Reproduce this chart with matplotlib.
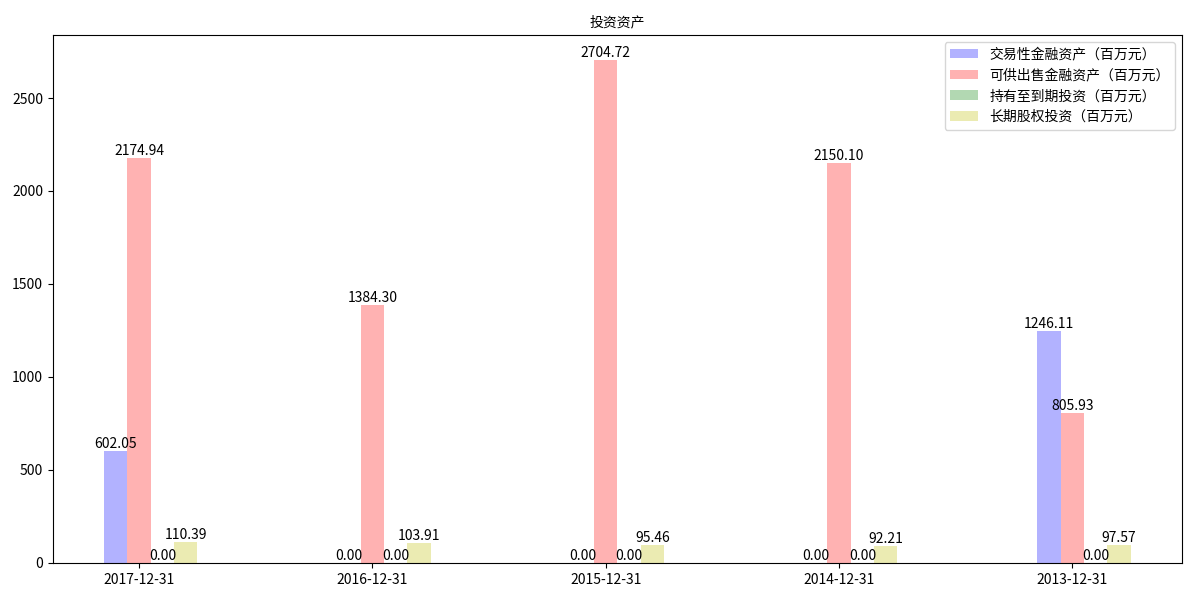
import matplotlib
matplotlib.use('Agg')
import matplotlib.pyplot as plt
import numpy as np

plt.rcParams['font.family'] = ['Noto Sans CJK SC', 'DejaVu Sans']
plt.rcParams['axes.unicode_minus'] = False

dates = ['2017-12-31', '2016-12-31', '2015-12-31', '2014-12-31', '2013-12-31']
trading = [602.05, 0.00, 0.00, 0.00, 1246.11]
available = [2174.94, 1384.30, 2704.72, 2150.10, 805.93]
held = [0.00, 0.00, 0.00, 0.00, 0.00]
equity = [110.39, 103.91, 95.46, 92.21, 97.57]

series = [
    (trading, '交易性金融资产（百万元）', 'b', -1),
    (available, '可供出售金融资产（百万元）', 'r', 0),
    (held, '持有至到期投资（百万元）', 'g', 1),
    (equity, '长期股权投资（百万元）', 'y', 2),
]

width = 0.1
x = np.arange(len(dates))

fig = plt.figure(figsize=(12, 6), dpi=100)
ax = fig.add_subplot(1, 1, 1)

for vals, label, color, k in series:
    xs = x + k * width
    ax.bar(xs, vals, width=width, color=color, alpha=0.3, label=label)
    for xi, v in zip(xs, vals):
        ax.text(xi, v, '%.2f' % v, ha='center', va='bottom', fontsize=10)

ax.set_xticks(x)
ax.set_xticklabels(dates)
ax.set_title('投资资产', fontsize=10)
ax.legend(loc='upper right')

fig.subplots_adjust(left=0.044, right=0.985, top=0.942, bottom=0.062)
fig.savefig('out.png')
